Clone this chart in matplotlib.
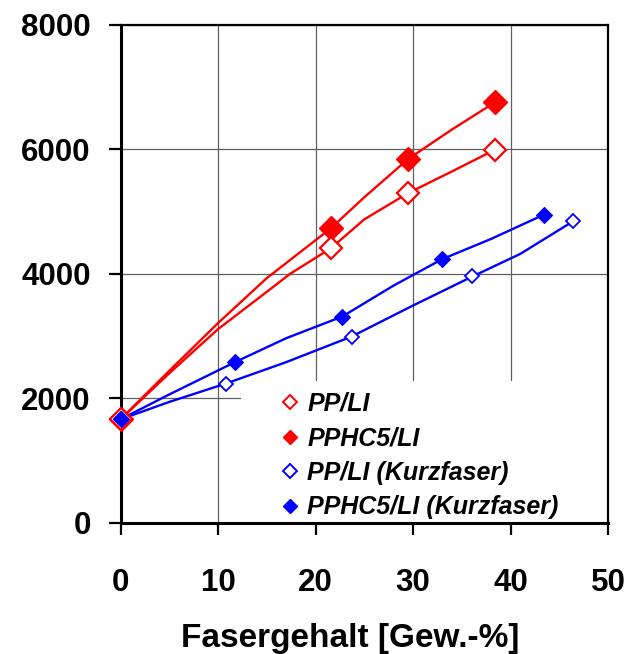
import matplotlib
matplotlib.use("Agg")
import matplotlib.pyplot as plt
from matplotlib.lines import Line2D
from matplotlib.patches import Rectangle

plt.rcParams['font.family'] = ['Liberation Sans', 'DejaVu Sans']
plt.rcParams['font.weight'] = 'bold'

RED = '#FF0000'
BLUE = '#0000FF'

# ---- measured points (markers) ----
pp_li_x = [0, 21.6, 29.5, 38.4]
pp_li_y = [1660, 4413, 5298, 5995]
pphc_li_x = [0, 21.6, 29.5, 38.4]
pphc_li_y = [1660, 4735, 5845, 6757]
pp_kurz_x = [0, 10.8, 23.7, 36.1, 46.4]
pp_kurz_y = [1660, 2235, 2991, 3957, 4842]
pphc_kurz_x = [0, 11.74, 22.75, 33.0, 43.4]
pphc_kurz_y = [1660, 2580, 3313, 4236, 4949]

# ---- fitted curves ----
pp_li_cx = [0, 5, 10, 15, 17.4, 21.6, 25, 29.5, 34, 38.4]
pp_li_cy = [1660, 2400, 3110, 3710, 4000, 4413, 4875, 5298, 5646, 5995]
pphc_li_cx = [0, 5, 10, 15, 21.6, 25, 29.5, 34, 38.4]
pphc_li_cy = [1660, 2440, 3207, 3930, 4735, 5230, 5845, 6320, 6757]
pp_kurz_cx = [0, 5, 10.8, 17, 23.7, 30, 36.1, 41, 46.4]
pp_kurz_cy = [1660, 1940, 2235, 2580, 2991, 3490, 3957, 4320, 4842]
pphc_kurz_cx = [0, 5, 11.74, 17, 22.75, 28, 33.0, 38, 43.4]
pphc_kurz_cy = [1660, 2060, 2580, 2965, 3313, 3810, 4236, 4560, 4949]

labels = ['PP/LI', 'PPHC5/LI', 'PP/LI (Kurzfaser)', 'PPHC5/LI (Kurzfaser)']
x_ticks = [0, 10, 20, 30, 40, 50]
y_ticks = [0, 2000, 4000, 6000, 8000]

fig = plt.figure(figsize=(6.32, 6.54), dpi=100)
ax = fig.add_axes([120.5/632, 1-522.6/654, (608-120.5)/632, (522.6-25)/654])
ax.set_xlim(0, 50)
ax.set_ylim(0, 8000)
ax.set_xticks(x_ticks)
ax.set_yticks(y_ticks)
ax.set_axisbelow(True)
ax.grid(True, color='#606060', lw=0.9)

# white legend area
ax.add_patch(Rectangle((12.4 / 50, 0), 1 - 12.4 / 50, 2275 / 8000, transform=ax.transAxes,
                       facecolor='white', edgecolor='none', zorder=1.5))

lw = 1.7
ax.plot(pp_li_cx, pp_li_cy, color=RED, lw=lw, zorder=3)
ax.plot(pphc_li_cx, pphc_li_cy, color=RED, lw=lw, zorder=3)
ax.plot(pp_kurz_cx, pp_kurz_cy, color=BLUE, lw=lw, zorder=3)
ax.plot(pphc_kurz_cx, pphc_kurz_cy, color=BLUE, lw=lw, zorder=3)

ax.plot(pphc_li_x, pphc_li_y, ls='none', marker='D', ms=12, color=RED, mec=RED, mew=1, zorder=5, clip_on=False)
ax.plot(pp_li_x, pp_li_y, ls='none', marker='D', ms=11.3, mfc='white', mec=RED, mew=1.6, zorder=5, clip_on=False)
ax.plot(pp_kurz_x, pp_kurz_y, ls='none', marker='D', ms=7, mfc='white', mec=BLUE, mew=1.3, zorder=6, clip_on=False)
ax.plot(pphc_kurz_x, pphc_kurz_y, ls='none', marker='D', ms=8.3, color=BLUE, mec=BLUE, mew=0.8, zorder=6, clip_on=False)

handles = [
    Line2D([], [], ls='none', marker='D', ms=6.8, mfc='white', mec=RED, mew=1.4),
    Line2D([], [], ls='none', marker='D', ms=7.5, color=RED, mec=RED),
    Line2D([], [], ls='none', marker='D', ms=6.8, mfc='white', mec=BLUE, mew=1.4),
    Line2D([], [], ls='none', marker='D', ms=7.5, color=BLUE, mec=BLUE),
]
leg = ax.legend(handles, labels, loc='upper left', bbox_to_anchor=(0.3333, 0.2625),
                frameon=False, borderaxespad=0, borderpad=0, handlelength=0.6,
                handletextpad=0.38, labelspacing=0.42,
                prop={'family': 'Liberation Sans', 'weight': 'bold', 'style': 'italic', 'size': 18})
leg.set_zorder(7)

for s in ['left', 'bottom']:
    ax.spines[s].set_linewidth(2.2)
for s in ['top', 'right']:
    ax.spines[s].set_linewidth(1.6)
ax.tick_params(axis='both', direction='out', length=8.5, width=1.6, labelsize=22.5)
ax.tick_params(axis='x', pad=24)
ax.tick_params(axis='y', pad=13)
for t in ax.get_xticklabels() + ax.get_yticklabels():
    t.set_fontweight('bold')

ax.set_xlabel('Fasergehalt [Gew.-%]', fontsize=24, fontweight='bold')
ax.xaxis.set_label_coords((350 - 120.5) / 487.5, (522.6 - 623) / 497.6)

fig.savefig('out.png', dpi=100)
